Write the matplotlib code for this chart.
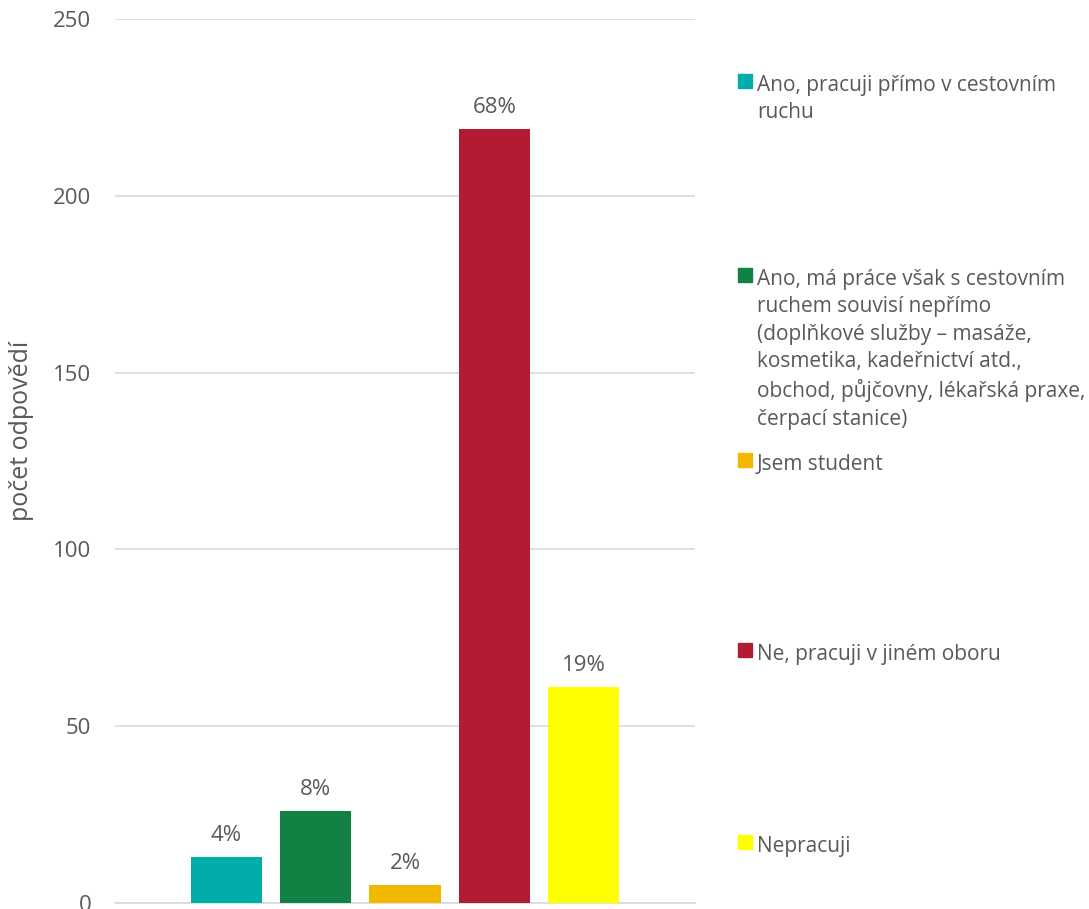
import matplotlib
matplotlib.use("Agg")
import matplotlib.pyplot as plt
from matplotlib.patches import Rectangle

# Data
categories = [
    "Ano, pracuji přímo v cestovním\nruchu",
    "Ano, má práce však s cestovním\nruchem souvisí nepřímo\n(doplňkové služby – masáže,\nkosmetika, kadeřnictví atd.,\nobchod, půjčovny, lékařská praxe,\nčerpací stanice)",
    "Jsem student",
    "Ne, pracuji v jiném oboru",
    "Nepracuji",
]
counts = [13, 26, 5, 219, 61]
pct_labels = ["4%", "8%", "2%", "68%", "19%"]
colors = ["#00ADA9", "#128244", "#F2B800", "#B31B34", "#FFFF00"]
yticks = [0, 50, 100, 150, 200, 250]

plt.rcParams["font.family"] = ["Open Sans", "DejaVu Sans"]
text_color = "#595959"

W, H = 1089, 909
fig = plt.figure(figsize=(W / 100, H / 100), dpi=100)
# axes box in pixels: x 115..695, y 19..903
ax = fig.add_axes([115 / W, 1 - 903 / H, 580 / W, 884 / H])

x = list(range(len(counts)))
bars = ax.bar(x, counts, width=0.8, color=colors, zorder=3)
for b, lab in zip(bars, pct_labels):
    ax.annotate(lab, (b.get_x() + b.get_width() / 2, b.get_height()),
                xytext=(0, 8), textcoords="offset points",
                ha="center", va="bottom", fontsize=16, color=text_color)

ax.set_xlim(-1.25, 5.25)
ax.set_ylim(0, 250)
ax.set_yticks(yticks)
ax.set_xticks([])
ax.tick_params(axis="y", length=0, labelsize=16, labelcolor=text_color, pad=17)
ax.yaxis.grid(True, color="#D9D9D9", linewidth=1.2, zorder=0)
for s in ["top", "right", "left"]:
    ax.spines[s].set_visible(False)
ax.spines["bottom"].set_color("#D9D9D9")
ax.spines["bottom"].set_linewidth(1.2)
ax.set_ylabel("počet odpovědí", fontsize=18, color=text_color)
ax.yaxis.set_label_coords((34 - 115) / 580, (903 - 431) / 884)

# legend, drawn by hand to match the spacing of the original
legend_y = [81, 275, 460, 650, 842]
for cat, col, yy in zip(categories, colors, legend_y):
    fig.patches.append(Rectangle((738 / W, 1 - (yy + 7) / H), 14 / W, 14 / H,
                                 transform=fig.transFigure, color=col))
    fig.text(757 / W, 1 - (yy - 6) / H, cat, fontsize=15, color=text_color,
             va="top", ha="left", linespacing=1.4)

plt.savefig("out.png", dpi=100)
